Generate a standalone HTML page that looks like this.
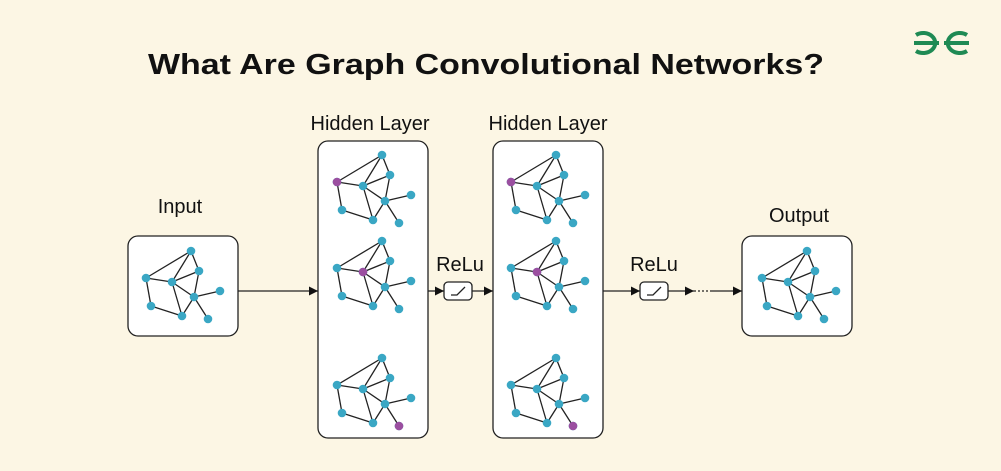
<!DOCTYPE html>
<html><head><meta charset="utf-8"><style>
html,body{margin:0;padding:0;background:#fcf6e4;}
svg{display:block;}
text{font-family:"Liberation Sans",sans-serif;fill:#111;}
</style></head><body>
<svg width="1001" height="471" viewBox="0 0 1001 471" xmlns="http://www.w3.org/2000/svg">
<defs>
<g id="g">
<g stroke="#222" stroke-width="1.3" fill="none">
<line x1="0" y1="0" x2="45" y2="-27"/><line x1="45" y1="-27" x2="26" y2="4"/>
<line x1="45" y1="-27" x2="53" y2="-7"/><line x1="26" y1="4" x2="53" y2="-7"/>
<line x1="0" y1="0" x2="26" y2="4"/><line x1="53" y1="-7" x2="48" y2="19"/>
<line x1="26" y1="4" x2="48" y2="19"/><line x1="26" y1="4" x2="36" y2="38"/>
<line x1="48" y1="19" x2="36" y2="38"/><line x1="48" y1="19" x2="74" y2="13"/>
<line x1="48" y1="19" x2="62" y2="41"/><line x1="0" y1="0" x2="5" y2="28"/>
<line x1="5" y1="28" x2="36" y2="38"/>
</g>
<g fill="#3aa7c4">
<circle cx="45" cy="-27" r="4.3"/><circle cx="53" cy="-7" r="4.3"/><circle cx="0" cy="0" r="4.3"/>
<circle cx="26" cy="4" r="4.3"/><circle cx="48" cy="19" r="4.3"/><circle cx="74" cy="13" r="4.3"/>
<circle cx="5" cy="28" r="4.3"/><circle cx="36" cy="38" r="4.3"/><circle cx="62" cy="41" r="4.3"/>
</g>
</g>
<marker id="ah" viewBox="0 0 10 10" refX="10" refY="5" markerWidth="9" markerHeight="9" markerUnits="userSpaceOnUse" orient="auto"><path d="M0,0L10,5L0,10z" fill="#111"/></marker>
</defs>

<text x="486" y="74" font-size="29" font-weight="bold" text-anchor="middle" textLength="676" lengthAdjust="spacingAndGlyphs">What Are Graph Convolutional Networks?</text>

<!-- logo -->
<g fill="none" stroke="#1f8a54" stroke-width="4">
<path d="M914,43 H939 M916,35 A12,10 0 1 1 916,51"/>
<path d="M969,43 H944 M967,35 A12,10 0 1 0 967,51"/>
</g>

<text x="180" y="213" font-size="20" text-anchor="middle">Input</text>
<text x="370" y="130" font-size="20" text-anchor="middle">Hidden Layer</text>
<text x="548" y="130" font-size="20" text-anchor="middle">Hidden Layer</text>
<text x="460" y="271" font-size="20" text-anchor="middle">ReLu</text>
<text x="654" y="271" font-size="20" text-anchor="middle">ReLu</text>
<text x="799" y="222" font-size="20" text-anchor="middle">Output</text>

<g fill="#fff" stroke="#222" stroke-width="1.3">
<rect x="128" y="236" width="110" height="100" rx="10"/>
<rect x="318" y="141" width="110" height="297" rx="10"/>
<rect x="493" y="141" width="110" height="297" rx="10"/>
<rect x="742" y="236" width="110" height="100" rx="10"/>
<rect x="444" y="282" width="28" height="18" rx="4"/>
<rect x="640" y="282" width="28" height="18" rx="4"/>
</g>
<g stroke="#222" stroke-width="1.3" fill="none">
<path d="M451,295 H457 L465,287"/>
<path d="M647,295 H653 L661,287"/>
</g>

<g stroke="#222" stroke-width="1.3">
<line x1="238" y1="291" x2="318" y2="291" marker-end="url(#ah)"/>
<line x1="428" y1="291" x2="444" y2="291" marker-end="url(#ah)"/>
<line x1="472" y1="291" x2="493" y2="291" marker-end="url(#ah)"/>
<line x1="603" y1="291" x2="640" y2="291" marker-end="url(#ah)"/>
<line x1="668" y1="291" x2="694" y2="291" marker-end="url(#ah)"/>
<line x1="694" y1="291" x2="710" y2="291" stroke-dasharray="2 2"/>
<line x1="710" y1="291" x2="742" y2="291" marker-end="url(#ah)"/>
</g>

<use href="#g" x="146" y="278"/>
<use href="#g" x="762" y="278"/>
<use href="#g" x="337" y="182"/>
<use href="#g" x="337" y="268"/>
<use href="#g" x="337" y="385"/>
<use href="#g" x="511" y="182"/>
<use href="#g" x="511" y="268"/>
<use href="#g" x="511" y="385"/>
<g fill="#9b4fa0">
<circle cx="337" cy="182" r="4.3"/><circle cx="363" cy="272" r="4.3"/><circle cx="399" cy="426" r="4.3"/>
<circle cx="511" cy="182" r="4.3"/><circle cx="537" cy="272" r="4.3"/><circle cx="573" cy="426" r="4.3"/>
</g>
</svg>
</body></html>
